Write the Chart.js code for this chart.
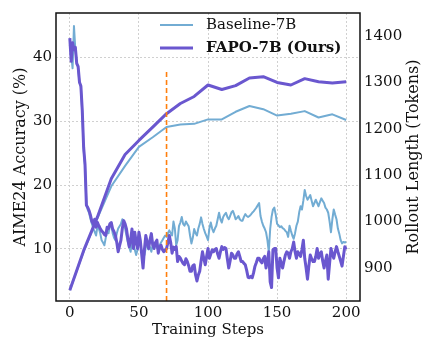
<!DOCTYPE html>
<html>
<head>
<meta charset="utf-8">
<script src="https://cdn.jsdelivr.net/npm/chart.js@4.4.1/dist/chart.umd.min.js"></script>
<style>
  html, body { margin: 0; padding: 0; background: #fff; }
  #wrap { width: 422px; height: 339px; }
</style>
</head>
<body>
<div id="wrap"><canvas id="chart" width="422" height="339"></canvas></div>
<script>
// AIME24 accuracy, evaluated every 10 steps (left axis)
const accSteps = [0, 10, 20, 30, 40, 50, 60, 70, 80, 90, 100, 110, 120, 130, 140, 150, 160, 170, 180, 190, 200];
const baselineAcc = [3.5, 9.6, 14.8, 19.8, 23.0, 26.0, 27.5, 29.1, 29.5, 29.6, 30.3, 30.3, 31.5, 32.4, 31.9, 30.9, 31.2, 31.6, 30.6, 31.1, 30.2];
const fapoAcc = [3.5, 9.7, 15.0, 21.0, 24.8, 27.0, 29.1, 31.2, 32.8, 33.9, 35.7, 35.0, 35.6, 36.8, 37.0, 36.1, 35.7, 36.7, 36.2, 36.0, 36.2];

// rollout length per training step 0..200 (right axis)
const baselineLen = [
  1380, 1360, 1330, 1421, 1370, 1345, 1330, 1300, 1290, 1235,
  1155, 1120, 1040, 1025, 1018, 1005, 995, 985, 978, 970,
  990, 985, 975, 960, 955, 949, 965, 980, 975, 990,
  995, 975, 965, 960, 975, 985, 990, 995, 1005, 998,
  985, 970, 955, 945, 935, 960, 950, 940, 928, 940,
  960, 950, 935, 930, 928, 945, 950, 940, 945, 935,
  950, 945, 952, 945, 940, 949, 955, 960, 965, 970,
  967, 975, 981, 975, 970, 1000, 985, 949, 960, 990,
  998, 1010, 995, 991, 1000, 995, 990, 970, 953, 965,
  984, 975, 970, 985, 995, 1009, 995, 984, 975, 968,
  960, 985, 998, 985, 977, 985, 991, 1005, 1019, 1005,
  998, 1010, 1015, 1019, 1010, 1005, 1012, 1020, 1023, 1015,
  1005, 1008, 1012, 1005, 1002, 1002, 1010, 1016, 1012, 1010,
  1012, 1015, 1019, 1022, 1026, 1030, 1035, 1040, 1012, 1000,
  991, 985, 977, 960, 935, 984, 1010, 1026, 1030, 1015,
  995, 992, 988, 990, 986, 984, 980, 977, 967, 991,
  980, 970, 963, 975, 991, 1000, 1020, 1033, 1026, 1045,
  1068, 1055, 1047, 1052, 1057, 1045, 1033, 1040, 1047, 1040,
  1033, 1042, 1050, 1045, 1040, 1030, 1026, 1019, 1000, 977,
  1005, 1026, 1015, 1005, 985, 974, 960, 953, 956, 955,
  956
];
const fapoLen = [
  1395, 1345, 1385, 1370, 1375, 1340, 1334, 1300, 1292, 1240,
  1160, 1123, 1035, 1030, 1023, 1013, 1000, 995, 1005, 988,
  998, 991, 985, 980, 977, 972, 970, 988, 985, 995,
  998, 984, 978, 970, 955, 935, 948, 960, 985, 1002,
  995, 984, 963, 946, 960, 984, 942, 977, 956, 942,
  977, 960, 930, 900, 940, 970, 955, 942, 960, 974,
  950, 942, 955, 960, 932, 945, 949, 940, 935, 938,
  942, 955, 970, 955, 932, 945, 940, 946, 914, 925,
  921, 915, 910, 907, 920, 914, 905, 893, 893, 905,
  907, 885, 872, 885, 893, 915, 935, 920, 907, 925,
  942, 921, 930, 939, 935, 940, 942, 930, 921, 935,
  946, 940, 944, 942, 920, 900, 915, 932, 928, 921,
  921, 930, 935, 925, 914, 914, 910, 907, 895, 880,
  879, 882, 879, 890, 904, 912, 921, 921, 915, 911,
  920, 925, 900, 915, 935, 870, 858, 939, 942, 942,
  900, 879, 921, 910, 900, 915, 928, 935, 932, 921,
  935, 942, 956, 935, 921, 935, 930, 925, 940, 960,
  921, 900, 876, 905, 928, 920, 914, 914, 925, 942,
  921, 930, 935, 915, 900, 915, 928, 876, 910, 942,
  930, 921, 935, 946, 935, 925, 915, 904, 925, 946,
  940
];

const markerStep = 70;
const markerTop = 38;

const xTicks = [0, 50, 100, 150, 200];
const accTicks = [10, 20, 30, 40];
const lenTicks = [900, 1000, 1100, 1200, 1300, 1400];

const blue = '#72acd3';
const purple = '#6a57cf';
const orange = '#ff7f0e';
const serif = "'DejaVu Serif', serif";

const pts = (xs, ys) => ys.map((y, i) => ({ x: xs[i], y: y }));
const lenSteps = fapoLen.map((_, i) => i);

const frame = {
  id: 'frame',
  afterDraw(chart) {
    const { ctx, chartArea: a } = chart;
    ctx.save();
    ctx.strokeStyle = '#111';
    ctx.lineWidth = 1.5;
    ctx.strokeRect(a.left, a.top, a.right - a.left, a.bottom - a.top);

    // right axis title, read bottom-to-top like matplotlib
    ctx.save();
    ctx.translate(414, (a.top + a.bottom) / 2);
    ctx.rotate(-Math.PI / 2);
    ctx.fillStyle = '#111';
    ctx.font = '16px ' + serif;
    ctx.textAlign = 'center';
    ctx.textBaseline = 'middle';
    ctx.fillText('Rollout Length (Tokens)', 0, 0);
    ctx.restore();

    // legend inside plot
    const rows = [
      { label: 'Baseline-7B', color: blue, width: 2, bold: false },
      { label: 'FAPO-7B (Ours)', color: purple, width: 3.2, bold: true }
    ];
    rows.forEach((r, i) => {
      const y = 25 + i * 23;
      ctx.strokeStyle = r.color;
      ctx.lineWidth = r.width;
      ctx.beginPath();
      ctx.moveTo(160, y);
      ctx.lineTo(193, y);
      ctx.stroke();
      ctx.fillStyle = '#111';
      ctx.font = (r.bold ? 'bold ' : '') + '15px ' + serif;
      ctx.textBaseline = 'middle';
      ctx.fillText(r.label, 206, y);
    });
    ctx.restore();
  }
};

new Chart(document.getElementById('chart'), {
  type: 'line',
  data: {
    datasets: [
      {
        label: 'marker',
        data: [{ x: markerStep, y: 1.8 }, { x: markerStep, y: markerTop }],
        yAxisID: 'y',
        borderColor: orange,
        borderWidth: 1.6,
        borderDash: [5, 3]
      },
      { label: 'FAPO-7B (Ours) length', data: pts(lenSteps, fapoLen), yAxisID: 'y1', borderColor: purple, borderWidth: 3 },
      { label: 'FAPO-7B (Ours)', data: pts(accSteps, fapoAcc), yAxisID: 'y', borderColor: purple, borderWidth: 3 },
      { label: 'Baseline-7B length', data: pts(lenSteps, baselineLen), yAxisID: 'y1', borderColor: blue, borderWidth: 2 },
      { label: 'Baseline-7B', data: pts(accSteps, baselineAcc), yAxisID: 'y', borderColor: blue, borderWidth: 2 }
    ]
  },
  options: {
    responsive: false,
    animation: false,
    layout: { padding: { top: 5, left: 0, right: 0, bottom: 0 } },
    elements: { point: { radius: 0 }, line: { tension: 0, borderJoinStyle: 'round' } },
    plugins: { legend: { display: false }, tooltip: { enabled: false } },
    scales: {
      x: {
        type: 'linear',
        min: -10,
        max: 210,
        afterBuildTicks: s => { s.ticks = xTicks.map(v => ({ value: v })); },
        afterFit: s => { s.height = 38; },
        ticks: { color: '#111', font: { family: serif, size: 15 }, padding: 3, maxRotation: 0, callback: v => String(v) },
        grid: { color: '#d0d0d0', lineWidth: 1, drawTicks: false },
        border: { display: false, dash: [2, 2] },
        title: { display: true, text: 'Training Steps', color: '#111', font: { family: serif, size: 15 }, padding: 0 }
      },
      y: {
        position: 'left',
        min: 1.8,
        max: 47,
        afterBuildTicks: s => { s.ticks = accTicks.map(v => ({ value: v })); },
        afterFit: s => { s.width = 56; },
        ticks: { color: '#111', font: { family: serif, size: 15 }, padding: 4, callback: v => String(v) },
        grid: { color: '#d0d0d0', lineWidth: 1, drawTicks: false },
        border: { display: false, dash: [2, 2] },
        title: { display: true, text: 'AIME24 Accuracy (%)', color: '#111', font: { family: serif, size: 16, lineHeight: 1.2 }, padding: { top: 11, bottom: 0 } }
      },
      y1: {
        position: 'right',
        min: 829,
        max: 1449,
        afterBuildTicks: s => { s.ticks = lenTicks.map(v => ({ value: v })); },
        afterFit: s => { s.width = 62; },
        ticks: { color: '#111', font: { family: serif, size: 15 }, padding: 4, callback: v => String(v) },
        grid: { drawOnChartArea: false, drawTicks: false },
        border: { display: false }
      }
    }
  },
  plugins: [frame]
});
</script>
</body>
</html>
